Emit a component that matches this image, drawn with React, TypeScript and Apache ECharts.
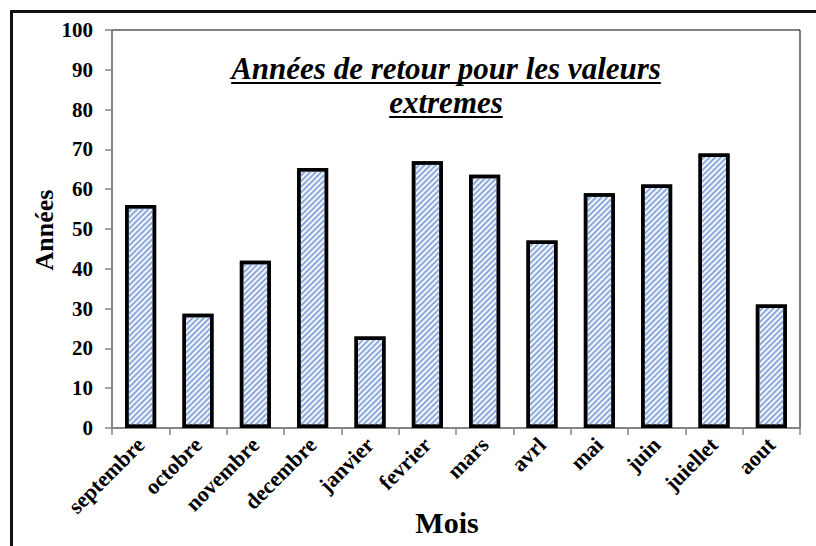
import React, { useEffect, useRef } from "react";
import * as echarts from "echarts";

const months = ["septembre", "octobre", "novembre", "decembre", "janvier", "fevrier", "mars", "avrl", "mai", "juin", "juiellet", "aout"];
const years = [56, 28.7, 42, 65.3, 23, 67, 63.6, 47.1, 59, 61.2, 69, 31];
const titleLines = ["Années de retour pour les valeurs", "extremes"];
const xName = "Mois";
const yName = "Années";

const FONT = "'Liberation Serif', 'Times New Roman', serif";

function measure(text: string, font: string): number {
  const c = document.createElement("canvas");
  const ctx = c.getContext("2d");
  if (!ctx) return text.length * 14;
  ctx.font = font;
  return ctx.measureText(text).width;
}

export default function App() {
  const ref = useRef<HTMLDivElement>(null);
  useEffect(() => {
    if (!ref.current) return;
    const chart = echarts.init(ref.current, undefined, { renderer: "svg" });
    const titleSize = 31;
    const titleFont = `italic bold ${titleSize}px 'Liberation Serif'`;
    const cx = 446;
    const baselines = [79, 113];
    const titleEls: any[] = [];
    titleLines.forEach((t, i) => {
      const w = measure(t, titleFont);
      titleEls.push({
        type: "text",
        x: cx,
        y: baselines[i] - 0.3375 * titleSize,
        style: {
          text: t,
          fontFamily: FONT,
          fontSize: titleSize,
          fontWeight: "bold",
          fontStyle: "italic",
          fill: "#000",
          textAlign: "center",
          textVerticalAlign: "middle",
          align: "center",
          verticalAlign: "middle",
        },
      });
      titleEls.push({
        type: "line",
        shape: { x1: cx - w / 2, y1: baselines[i] + 4, x2: cx + w / 2, y2: baselines[i] + 4 },
        style: { stroke: "#000", lineWidth: 2 },
      });
    });

    chart.setOption({
      animation: false,
      backgroundColor: "#fff",
      grid: {
        left: 112,
        right: 16,
        top: 30,
        bottom: 118,
        show: true,
        borderColor: "#000",
        borderWidth: 1,
        backgroundColor: "transparent",
      },
      xAxis: {
        type: "category",
        data: months,
        boundaryGap: true,
        axisLine: { lineStyle: { color: "#868686", width: 1.5 } },
        axisTick: { show: true, length: 7, lineStyle: { color: "#868686", width: 1.5 } },
        axisLabel: {
          interval: 0,
          rotate: 45,
          margin: 13,
          fontFamily: FONT,
          fontWeight: "bold",
          fontSize: 22,
          color: "#000",
        },
        splitLine: { show: false },
      },
      yAxis: {
        type: "value",
        min: 0,
        max: 100,
        interval: 10,
        axisLine: { show: true, lineStyle: { color: "#868686", width: 1.5 } },
        axisTick: { show: true, length: 7, lineStyle: { color: "#868686", width: 1.5 } },
        axisLabel: {
          margin: 19,
          fontFamily: FONT,
          fontWeight: "bold",
          fontSize: 21,
          color: "#000",
        },
        splitLine: { show: false },
      },
      series: [
        {
          type: "bar",
          data: years,
          barWidth: 31,
          itemStyle: {
            color: "#f4f7fc",
            borderColor: "#000",
            borderWidth: 3.5,
            decal: {
              symbol: "rect",
              symbolSize: 1,
              color: "#8eaadc",
              dashArrayX: [1, 0],
              dashArrayY: [1.3, 1.6],
              rotation: -Math.PI / 4,
            },
          },
        },
      ],
      graphic: [
        {
          type: "rect",
          shape: { x: 11.5, y: 11.5, width: 1200, height: 1200 },
          style: { fill: "none", stroke: "#111", lineWidth: 3 },
          silent: true,
        },
        ...titleEls,
        {
          type: "text",
          x: 44,
          y: 230,
          rotation: Math.PI / 2,
          style: {
            text: yName,
            fontFamily: FONT,
            fontSize: 26,
            fontWeight: "bold",
            fill: "#000",
            textAlign: "center",
            textVerticalAlign: "middle",
            align: "center",
            verticalAlign: "middle",
          },
        },
        {
          type: "text",
          x: 447,
          y: 522,
          style: {
            text: xName,
            fontFamily: FONT,
            fontSize: 30,
            fontWeight: "bold",
            fill: "#000",
            textAlign: "center",
            textVerticalAlign: "middle",
            align: "center",
            verticalAlign: "middle",
          },
        },
      ],
    });
    return () => chart.dispose();
  }, []);
  return (
    <div
      ref={ref}
      style={{ position: "absolute", left: 0, top: 0, width: 816, height: 546 }}
    />
  );
}
